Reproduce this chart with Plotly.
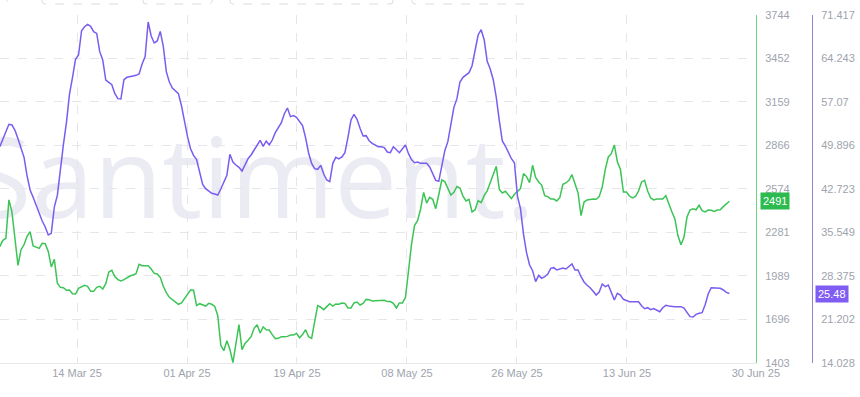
import pandas as pd
import plotly.graph_objects as go

# ---- data (12-hourly samples) ----
start_time = "2025-03-01 18:00"
step = "12h"

price = [
    2186, 2228, 2242, 2500, 2420, 2233, 2060, 2165, 2199, 2255,
    2287, 2190, 2181, 2174, 2208, 2206, 2154, 2049, 2100, 1939,
    1912, 1910, 1892, 1894, 1869, 1867, 1905, 1917, 1926, 1919,
    1885, 1885, 1912, 1919, 1901, 1937, 2015, 2026, 1984, 1964,
    1955, 1964, 1977, 1988, 1995, 2004, 2067, 2058, 2058, 2058,
    2035, 2006, 2002, 1979, 1919, 1876, 1845, 1829, 1813, 1798,
    1807, 1834, 1869, 1894, 1892, 1789, 1802, 1793, 1786, 1804,
    1798, 1784, 1721, 1522, 1486, 1553, 1495, 1405, 1529, 1661,
    1493, 1535, 1556,
    1580, 1636, 1661, 1605, 1645, 1627, 1625, 1594, 1567, 1569,
    1580, 1580, 1582, 1591, 1591, 1603, 1573, 1594, 1627, 1580,
    1569, 1679, 1789, 1778, 1762, 1782, 1802, 1786, 1800, 1798,
    1807, 1804, 1773, 1773, 1807, 1813, 1793, 1804, 1831, 1829,
    1820, 1822, 1822, 1820, 1825, 1816, 1816, 1804, 1773, 1807,
    1807, 1843, 2035, 2201, 2329, 2360, 2439, 2551, 2479, 2517,
    2504, 2441, 2535, 2634, 2623, 2576, 2533, 2551, 2591, 2580,
    2526, 2493, 2504, 2419, 2434, 2495, 2482, 2529, 2560, 2616,
    2677, 2726, 2571,
    2547, 2558, 2533, 2509, 2538, 2558, 2576, 2677, 2657, 2616,
    2733, 2652, 2621, 2600, 2529, 2522, 2506, 2506, 2493, 2517,
    2605, 2614, 2632, 2670, 2612, 2549, 2394, 2486, 2500, 2504,
    2506, 2504, 2522, 2587, 2704, 2789, 2811, 2870, 2757, 2706,
    2553, 2553, 2526, 2513, 2524, 2560, 2621, 2632, 2560, 2513,
    2500, 2506, 2504, 2506, 2529, 2468, 2421, 2372, 2260, 2199,
    2248, 2385, 2432, 2441, 2434, 2464, 2428, 2419, 2432, 2430,
    2423, 2432, 2434, 2455, 2470, 2491,
]

metric = [
    49.70, 50.88, 52.13, 53.39, 53.28, 52.40, 51.02, 49.26, 47.94, 44.87,
    42.56, 41.35, 40.03, 38.60, 37.44, 36.46, 35.14, 35.41, 39.75, 41.68,
    46.35, 50.03, 53.66, 58.33, 61.08, 64.11, 64.82, 68.83, 69.49, 69.88,
    69.55, 68.67, 68.39, 65.37, 64.00, 60.70, 60.31, 59.93, 58.44, 57.62,
    57.56, 60.75, 61.14, 61.19, 61.36, 61.47, 61.69, 63.34, 64.55, 70.26,
    67.95, 66.80, 67.13, 68.72, 66.25, 62.07, 60.37, 59.38, 58.83, 58.44,
    56.46, 53.55, 51.35, 49.37, 48.27, 47.56, 45.69, 43.49, 42.78, 42.34,
    42.01, 41.90, 41.73, 42.72, 43.82, 44.98, 48.44, 47.17, 46.68, 46.30,
    45.69, 46.84, 47.72,
    48.33, 49.15, 50.03, 50.75, 49.76, 50.64, 49.98, 50.80, 52.01, 52.73,
    53.66, 55.14, 56.08, 54.65, 54.82, 54.54, 53.83, 53.17, 51.19, 48.66,
    46.95, 46.08, 45.97, 46.62, 45.20, 44.21, 43.93, 46.95, 47.94, 47.67,
    48.00, 48.71, 51.24, 54.10, 55.04, 54.21, 52.73, 51.46, 51.52, 50.69,
    50.25, 49.98, 49.70, 49.70, 49.54, 48.82, 48.71, 49.70, 49.21, 48.71,
    49.37, 49.98, 48.55, 47.56, 47.06, 47.17, 46.95, 46.95, 46.95, 46.35,
    45.36, 44.15, 43.99, 46.62, 49.04, 50.53, 53.28, 56.19, 57.62, 60.37,
    61.14, 61.47, 61.91, 63.06, 65.86, 68.12, 69.00, 67.35, 63.78, 62.51,
    60.75, 57.84, 53.99,
    50.64, 49.81, 48.71, 47.72, 47.06, 41.51, 39.48, 35.25, 32.22, 30.19,
    29.25, 27.44, 28.48, 27.99, 28.26, 28.70, 29.64, 29.75, 29.36, 29.47,
    29.69, 29.53, 30.02, 30.35, 29.36, 29.36, 28.26, 27.39, 26.84, 26.45,
    25.85, 25.24, 25.74, 27.06, 26.62, 26.89, 25.68, 24.42, 25.52, 25.24,
    24.53, 24.36, 24.14, 24.14, 24.14, 24.14, 23.48, 22.99, 23.15, 22.82,
    22.99, 22.77, 22.49, 23.15, 23.54, 23.43, 23.32, 23.32, 23.32, 23.32,
    23.10, 22.27, 21.67, 21.61, 22.05, 22.22, 22.33, 23.65, 25.41, 26.45,
    26.40, 26.34, 26.34, 26.07, 25.68, 25.48,
]

x_tick_dates = ["2025-03-14 12:00", "2025-04-01 16:00", "2025-04-19 20:00",
                "2025-05-08 00:00", "2025-05-26 04:00", "2025-06-13 08:00",
                "2025-07-04 15:00"]
x_tick_labels = ["14 Mar 25", "01 Apr 25", "19 Apr 25", "08 May 25",
                 "26 May 25", "13 Jun 25", "30 Jun 25"]
x_range = ["2025-03-01 18:40", "2025-07-04 15:35"]

price_ticks = ["1403", "1696", "1989", "2281", "2574", "2866", "3159", "3452", "3744"]
metric_ticks = ["14.028", "21.202", "28.375", "35.549", "42.723", "49.896", "57.07", "64.243", "71.417"]

last_price_label = "2491"
last_metric_label = "25.48"
watermark = "Santiment."

GREEN = "#3cc456"
PURPLE = "#7a5cf0"
GREEN_BOX = "#2dbb4f"
PURPLE_BOX = "#7f5cf2"
TICK_COLOR = "#9ea3ad"
GRID = "#e6e6ea"

W, H = 860, 397
M_T, M_B = 15, 34
PLOT_H = H - M_T - M_B

dates = pd.date_range(start=start_time, periods=len(price), freq=step)

fig = go.Figure()
fig.add_trace(go.Scatter(x=dates, y=price, mode="lines", yaxis="y",
                         line=dict(color=GREEN, width=1.5), name="Price",
                         hoverinfo="skip"))
fig.add_trace(go.Scatter(x=dates, y=metric, mode="lines", yaxis="y2",
                         line=dict(color=PURPLE, width=1.5), name="Metric",
                         hoverinfo="skip"))

FONT = "Arial, Liberation Sans, sans-serif"
xdom_end = 756 / W

fig.update_layout(
    width=W, height=H,
    margin=dict(l=0, r=0, t=M_T, b=M_B, autoexpand=False),
    paper_bgcolor="white", plot_bgcolor="white",
    showlegend=False,
    hovermode=False,
    font=dict(family=FONT, size=11, color=TICK_COLOR),
    xaxis=dict(
        domain=[0, xdom_end],
        type="date",
        range=x_range,
        tickmode="array",
        tickvals=x_tick_dates,
        ticktext=x_tick_labels,
        showgrid=True, gridcolor=GRID, griddash="dash", gridwidth=1,
        showline=True, linecolor="#e8e8ec", linewidth=1,
        ticks="", tickfont=dict(size=11, color=TICK_COLOR),
        zeroline=False, automargin=False,
    ),
    yaxis=dict(
        side="right", anchor="x",
        range=[float(price_ticks[0]), float(price_ticks[-1])],
        tickmode="array",
        tickvals=[float(t) for t in price_ticks],
        ticktext=price_ticks,
        showgrid=True, gridcolor=GRID, griddash="dash", gridwidth=1,
        showline=True, linecolor="#6fd37f", linewidth=1,
        ticks="", ticklabelstandoff=6,
        tickfont=dict(size=11, color=TICK_COLOR),
        zeroline=False, automargin=False,
    ),
    yaxis2=dict(
        side="right", overlaying="y", anchor="free", position=812 / W,
        range=[float(metric_ticks[0]), float(metric_ticks[-1])],
        tickmode="array",
        tickvals=[float(t) for t in metric_ticks],
        ticktext=metric_ticks,
        showgrid=False,
        showline=True, linecolor="#8c84d6", linewidth=1,
        ticks="", ticklabelstandoff=6,
        tickfont=dict(size=11, color=TICK_COLOR),
        zeroline=False, automargin=False,
    ),
)


def py(pix):
    """pixel row -> paper y"""
    return 1 - (pix - M_T) / PLOT_H


# watermark (drawn below the lines)
fig.add_shape(
    type="rect", xref="paper", yref="paper",
    x0=-33 / W, x1=0.66, y0=py(182) - 0.1, y1=py(182) + 0.1,
    line=dict(width=0), fillcolor="rgba(0,0,0,0)", layer="below",
    label=dict(text=watermark, textposition="middle left", padding=0,
               font=dict(family="Open Sans, sans-serif", size=112, color="#ebebf3")),
)

# faint dashed box edges peeking at the top edge
for a, b in [(-5, 7), (42, 123), (143, 212), (230, 393), (412, 525)]:
    fig.add_shape(type="path", xref="paper", yref="paper", layer="below",
                  path=f"M {a / W},{py(-2)} L {a / W},{py(1)} Q {a / W},{py(4)} {(a + 3) / W},{py(4)} "
                       f"L {(b - 3) / W},{py(4)} Q {b / W},{py(4)} {b / W},{py(1)} L {b / W},{py(-2)}",
                  line=dict(color="#dcdce2", width=1, dash="dash"))

# last value badges
fig.add_annotation(
    text=last_price_label, xref="paper", yref="y",
    x=760 / W, y=float(last_price_label), xanchor="left", yanchor="middle",
    showarrow=False, bgcolor=GREEN_BOX, borderpad=2,
    font=dict(family=FONT, size=11, color="white"),
)
fig.add_annotation(
    text=last_metric_label, xref="paper", yref="y2",
    x=815 / W, y=float(last_metric_label), xanchor="left", yanchor="middle",
    showarrow=False, bgcolor=PURPLE_BOX, borderpad=2,
    font=dict(family=FONT, size=11, color="white"),
)

fig.write_html(
    "out.html",
    config={"displayModeBar": False},
    post_script="document.body.style.margin='0';document.body.style.overflow='hidden';",
)
